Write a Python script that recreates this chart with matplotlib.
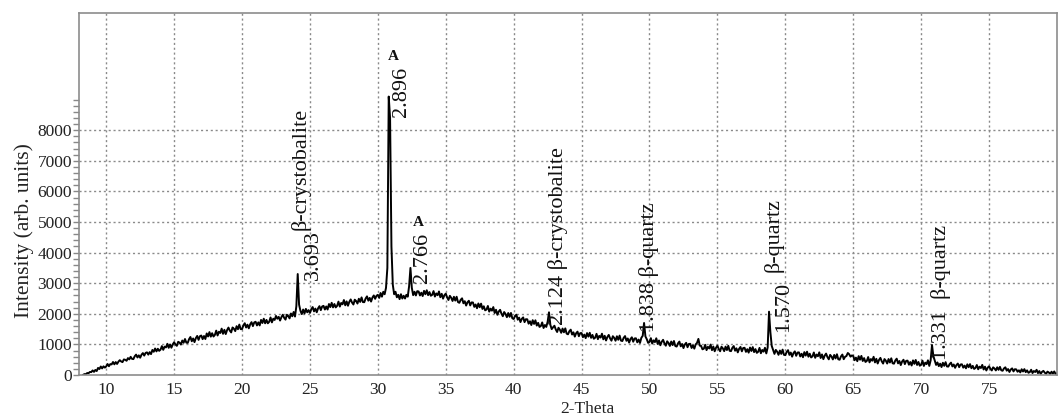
import numpy as np
import matplotlib
matplotlib.use("Agg")
import matplotlib.pyplot as plt
from matplotlib.ticker import FixedLocator

# 2-theta grid: start and step of the scan (degrees)
theta_start = 8.3
theta_step = 0.1

# Intensity (arb. units), one row per degree
intensity = [
    5, 30, 25, 65, 60, 100, 95,                                  # 8.3-8.9
    150, 103, 166, 129, 232, 195, 278, 216, 284, 242,            # 9
    280, 359, 288, 357, 346, 425, 349, 423, 362, 436,            # 10
    485, 443, 421, 509, 497, 465, 553, 511, 594, 527,            # 11
    520, 613, 666, 574, 642, 565, 663, 716, 634, 722,            # 12
    740, 666, 747, 683, 819, 760, 866, 772, 858, 789,            # 13
    830, 944, 823, 927, 901, 1020, 889, 998, 892, 1001,          # 14
    1070, 997, 954, 1086, 1058, 995, 1127, 1054, 1176, 1058,     # 15
    1050, 1171, 1242, 1103, 1194, 1075, 1206, 1277, 1148, 1269,  # 16
    1290, 1172, 1274, 1176, 1358, 1260, 1402, 1254, 1366, 1258,  # 17
    1310, 1451, 1292, 1413, 1374, 1515, 1346, 1477, 1338, 1469,  # 18
    1550, 1451, 1392, 1553, 1514, 1435, 1596, 1497, 1648, 1499,  # 19
    1500, 1621, 1692, 1553, 1644, 1525, 1656, 1727, 1598, 1719,  # 20
    1740, 1620, 1720, 1620, 1800, 1700, 1840, 1690, 1800, 1690,  # 21
    1740, 1880, 1720, 1840, 1800, 1930, 1840, 1900, 1780, 1890,  # 22
    1970, 1870, 1810, 1970, 1930, 1850, 2010, 1920, 2060, 1910,  # 23
    2250, 3300, 2300, 2100, 1990, 2140, 2010, 2160, 2050, 2120,  # 24
    2030, 2150, 2220, 2080, 2170, 2050, 2180, 2250, 2120, 2240,  # 25
    2260, 2140, 2240, 2140, 2320, 2220, 2360, 2210, 2320, 2210,  # 26
    2260, 2398, 2236, 2354, 2312, 2450, 2278, 2406, 2264, 2392,  # 27
    2470, 2367, 2304, 2461, 2418, 2335, 2492, 2389, 2536, 2383,  # 28
    2380, 2500, 2570, 2430, 2520, 2400, 2530, 2600, 2490, 2590,  # 29
    2620, 2520, 2680, 2560, 2720, 2640, 2850, 3500, 9100, 8400,  # 30
    4200, 2950, 2640, 2720, 2540, 2620, 2480, 2640, 2500, 2590,  # 31
    2500, 2620, 2560, 2900, 3500, 2850, 2610, 2720, 2600, 2740,  # 32
    2730, 2600, 2690, 2580, 2750, 2640, 2770, 2610, 2710, 2590,  # 33
    2620, 2742, 2564, 2666, 2608, 2730, 2542, 2654, 2496, 2608,  # 34
    2660, 2536, 2452, 2588, 2524, 2420, 2556, 2432, 2558, 2384,  # 35
    2360, 2458, 2506, 2344, 2412, 2270, 2378, 2426, 2274, 2372,  # 36
    2370, 2227, 2304, 2181, 2338, 2215, 2332, 2159, 2246, 2113,  # 37
    2140, 2256, 2072, 2168, 2104, 2220, 2026, 2132, 1968, 2074,  # 38
    2130, 2006, 1922, 2058, 1994, 1890, 2026, 1902, 2028, 1854,  # 39
    1830, 1926, 1972, 1808, 1874, 1730, 1836, 1882, 1728, 1824,  # 40
    1820, 1678, 1756, 1634, 1792, 1670, 1788, 1616, 1704, 1572,  # 41
    1600, 1718, 1536, 1634, 1572, 1740, 2050, 1640, 1500, 1560,  # 42
    1610, 1488, 1406, 1544, 1482, 1380, 1518, 1396, 1524, 1352,  # 43
    1330, 1431, 1482, 1323, 1394, 1255, 1366, 1417, 1268, 1369,  # 44
    1370, 1235, 1320, 1205, 1370, 1255, 1380, 1215, 1310, 1185,  # 45
    1220, 1346, 1172, 1278, 1224, 1350, 1166, 1282, 1128, 1244,  # 46
    1310, 1196, 1122, 1268, 1214, 1120, 1266, 1152, 1288, 1124,  # 47
    1110, 1216, 1272, 1118, 1194, 1060, 1176, 1232, 1088, 1194,  # 48
    1200, 1068, 1158, 1048, 1216, 1280, 1700, 1260, 1170, 1050,  # 49
    1080, 1204, 1028, 1132, 1076, 1200, 1014, 1128, 972, 1086,   # 50
    1150, 1034, 958, 1102, 1046, 950, 1094, 978, 1112, 946,      # 51
    930, 1036, 1092, 938, 1014, 880, 996, 1052, 908, 1014,       # 52
    1020, 884, 968, 862, 1000, 1050, 1180, 960, 950, 840,        # 53
    860, 987, 814, 921, 868, 995, 812, 929, 776, 893,            # 54
    960, 848, 776, 924, 872, 780, 928, 816, 954, 792,            # 55
    780, 888, 946, 794, 872, 740, 858, 916, 774, 882,            # 56
    890, 757, 844, 731, 898, 785, 912, 749, 846, 723,            # 57
    760, 886, 712, 818, 764, 890, 706, 900, 2070, 1400,          # 58
    950, 820, 690, 820, 760, 660, 800, 690, 830, 660,            # 59
    650, 756, 812, 658, 734, 600, 716, 772, 628, 734,            # 60
    740, 607, 694, 581, 748, 635, 762, 599, 696, 573,            # 61
    610, 736, 562, 668, 614, 740, 556, 672, 518, 634,            # 62
    700, 586, 512, 658, 604, 510, 656, 542, 678, 514,            # 63
    500, 609, 668, 517, 596, 620, 720, 680, 600, 640,            # 64
    620, 484, 568, 452, 616, 500, 624, 458, 552, 426,            # 65
    460, 587, 414, 521, 468, 595, 412, 529, 376, 493,            # 66
    560, 447, 374, 521, 468, 375, 522, 409, 546, 383,            # 67
    370, 477, 534, 381, 458, 325, 442, 499, 356, 463,            # 68
    470, 337, 424, 311, 478, 365, 492, 329, 426, 303,            # 69
    340, 468, 296, 404, 356, 480, 298, 480, 980, 620,            # 70
    470, 330, 410, 290, 370, 260, 400, 300, 420, 280,            # 71
    275, 357, 404, 281, 343, 235, 327, 374, 256, 343,            # 72
    350, 241, 307, 218, 349, 255, 356, 222, 298, 199,            # 73
    230, 326, 187, 273, 229, 330, 181, 272, 148, 239,            # 74
    285, 202, 149, 251, 213, 150, 252, 169, 266, 153,            # 75
    140, 216, 252, 143, 194, 100, 181, 217, 118, 189,            # 76
    185, 107, 154, 86, 188, 115, 192, 94, 151, 73,               # 77
    95, 172, 64, 131, 98, 170, 62, 129, 36, 103,                 # 78
    135, 77, 39, 111, 83, 35, 107, 49, 116, 33,                  # 79
    55,                                                          # 80
]

x_ticks = [10, 15, 20, 25, 30, 35, 40, 45, 50, 55, 60, 65, 70, 75]
y_ticks = [0, 1000, 2000, 3000, 4000, 5000, 6000, 7000, 8000]

# Peak annotations: (text, 2-theta, intensity at text bottom)
annotations = [
    ("\u03b2-crystobalite", 24.31, 4740),
    ("3.693", 25.24, 3100),
    ("2.896", 31.76, 8430),
    ("2.766", 33.30, 3000),
    ("2.124 \u03b2-crystobalite", 43.30, 1630),
    ("1.838 \u03b2-quartz", 49.94, 1420),
    ("\u03b2-quartz", 59.16, 3380),
    ("1.570", 59.90, 1420),
    ("1.331  \u03b2-quartz", 71.45, 490),
]
phase_marks = [("A", 31.14, 10400), ("A", 32.98, 5000)]

plt.rcParams["font.family"] = ["Liberation Serif", "DejaVu Serif"]

two_theta = theta_start + theta_step * np.arange(len(intensity))

fig = plt.figure(figsize=(10.61, 4.17), dpi=100)
ax = fig.add_axes([0.0745, 0.1007, 0.9217, 0.8688])

ax.plot(two_theta, intensity, color="black", lw=1.4)

ax.set_xlim(8, 80)
ax.set_ylim(0, 11840)

ax.xaxis.set_major_locator(FixedLocator(x_ticks))
ax.yaxis.set_major_locator(FixedLocator(y_ticks))
ax.yaxis.set_minor_locator(FixedLocator(np.arange(200, 9001, 200)))
ax.tick_params(axis="x", length=0, labelsize=12.5, pad=5, colors="#222222")
ax.tick_params(axis="y", which="major", length=4, width=1, direction="out",
               labelsize=12.5, pad=1, colors="#222222", color="#888888")
ax.tick_params(axis="y", which="minor", length=4, width=1, direction="out",
               color="#888888")

for s in ax.spines.values():
    s.set_color("#8c8c8c")
    s.set_linewidth(1.2)

for xv in x_ticks:
    ax.axvline(xv, color="#8a8a8a", lw=1.0, ls=(0, (1.5, 2)), zorder=0)
for yv in y_ticks[1:]:
    ax.axhline(yv, color="#8a8a8a", lw=1.0, ls=(0, (1.5, 2)), zorder=0)

for txt, xv, yv in annotations:
    ax.text(xv, yv, txt, rotation=90, ha="center", va="bottom",
            fontsize=16, color="#111111")
for txt, xv, yv in phase_marks:
    ax.text(xv, yv, txt, ha="center", va="center", fontsize=11,
            fontweight="bold", color="#111111")

ax.set_xlabel("2-Theta", fontsize=12.5, labelpad=2, x=0.52, color="#222222")
ax.set_ylabel("Intensity (arb. units)", fontsize=15.5, color="#222222")
ax.yaxis.set_label_coords(-0.046, 0.40)

fig.savefig("out.png", dpi=100)
